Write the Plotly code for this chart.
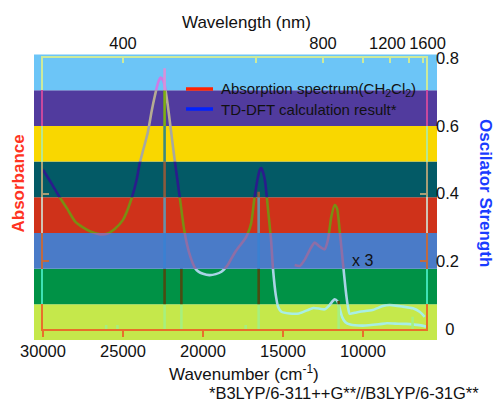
import plotly.graph_objects as go

# ---------------- data ----------------
wn_abs = [30000, 29500, 29000, 28500, 28000, 27500, 27000, 26500, 26000, 25500, 25000,
          24500, 24150, 23950, 23700, 23450, 23200, 23000, 22800, 22650, 22500, 22400,
          22200, 22000, 21800, 21600, 21400, 21200, 21000, 20800, 20500, 20300, 20000,
          19600, 19200, 18850, 18450, 18200, 17900, 17500, 17300, 17000, 16800, 16600,
          16450, 16350, 16200, 16100, 15950, 15750, 15620, 15450, 15300, 15100, 14600,
          14000, 13500, 13100, 12700, 12400, 12100, 11900, 11770, 11600, 11450, 11300,
          11100, 10800, 10000, 9000, 8500, 8000, 7300, 6800, 6300, 6060]
absorbance = [0.470, 0.432, 0.392, 0.356, 0.318, 0.300, 0.287, 0.280, 0.281, 0.296, 0.322,
              0.380, 0.440, 0.490, 0.535, 0.580, 0.645, 0.690, 0.728, 0.742, 0.735, 0.720,
              0.660, 0.585, 0.510, 0.440, 0.370, 0.300, 0.250, 0.215, 0.180, 0.170, 0.163,
              0.159, 0.162, 0.169, 0.189, 0.210, 0.233, 0.258, 0.272, 0.310, 0.380, 0.440,
              0.470, 0.475, 0.455, 0.430, 0.360, 0.265, 0.175, 0.100, 0.065, 0.051, 0.046,
              0.046, 0.055, 0.062, 0.060, 0.058, 0.070, 0.082, 0.088, 0.082, 0.060, 0.035,
              0.020, 0.013, 0.010, 0.014, 0.017, 0.016, 0.015, 0.013, 0.010, 0.007]

wn_x3 = [14270, 13950, 13650, 13330, 13020, 12700, 12400, 12190, 11980, 11770, 11620,
         11460, 11250, 11080, 10940, 10830, 10500, 10200, 9400, 8750, 8330, 7500, 6880,
         6460, 6140]
absorbance_x3 = [0.189, 0.186, 0.204, 0.233, 0.255, 0.243, 0.235, 0.263, 0.331, 0.366, 0.356,
                 0.292, 0.194, 0.115, 0.066, 0.045, 0.048, 0.051, 0.056, 0.068, 0.071, 0.066,
                 0.061, 0.051, 0.036]

wn_calc = [26050, 25350, 22400, 21350, 17330, 16520, 11520, 6900]
osc_strength = [0.012, 0.012, 0.770, 0.180, 0.012, 0.405, 0.083, 0.036]

wn_ticks = [30000, 25000, 20000, 15000, 10000]
wl_ticks = [400, 600, 800, 1000, 1200, 1400, 1600]
wl_labels = ["400", "", "800", "", "1200\u00a0", "", "\u00a0\u00a01600"]
f_ticks = [0, 0.2, 0.4, 0.6, 0.8]
f_labels = ["\u00a0\u00a00", "0.2", "0.4", "0.6", "0.8"]

# bands listed bottom -> top
band_colors = ["#C5E84B", "#009246", "#4A7BC8", "#CF321A", "#035A66", "#F9D700", "#513B9E", "#6CC5F7"]
curve_colors = ["#A8EEE4", "#A9D3E6", "#8E6EA6", "#7A8E12", "#2A1C8C", "#A8A8A0", "#B5AC92", "#CE7BE6"]
stick_colors = ["#A6F07E", "#4A4C12", "#3A80D2", "#6890A8", "#8C5A3C", "#3C8A7E", "#7DB010", "#D890DA"]
frame_colors = ["#E8702A", "#3EE2B4", "#BF6A42", "#D0C4B4", "#A89E76", "#B8E890", "#C8489E", "#CDEA9A"]

# ---------------- layout geometry (pixels) ----------------
W, H = 494, 403
FL, FR, FT, FB = 43, 426, 58, 329          # inner frame = plot area
BL, BR, BT, BB = 34, 437, 54.5, 340        # coloured band area
YMAX = 0.8
XR = [30000, 6060]

def px_x(px):
    return (px - FL) / (FR - FL)

def px_y(py):
    return (FB - py) / (FB - FT)

nb = len(band_colors)
step = (BB - BT) / nb

fig = go.Figure()
shapes = []
layout_axes = {}

stick_x, stick_y = [], []
for w, f in zip(wn_calc, osc_strength):
    stick_x += [w, w, None]
    stick_y += [0, f, None]

for i in range(nb):
    p0 = px_y(BB - i * step)
    p1 = px_y(BB - (i + 1) * step)
    shapes.append(dict(type="rect", xref="paper", yref="paper", x0=px_x(BL), x1=px_x(BR),
                       y0=p0, y1=p1, fillcolor=band_colors[i], line=dict(width=0), layer="below"))
    d0, d1 = max(0.0, p0), min(1.0, p1)
    name = "yaxis" if i == 0 else f"yaxis{i + 1}"
    ref = "y" if i == 0 else f"y{i + 1}"
    layout_axes[name] = dict(domain=[d0, d1], range=[d0 * YMAX, d1 * YMAX], anchor="x",
                             showgrid=False, zeroline=False, showline=True, linecolor=frame_colors[i],
                             linewidth=2, mirror="ticks", ticks="inside", ticklen=6, tickwidth=2,
                             tickcolor=frame_colors[i], tickvals=[0, 0.2, 0.4, 0.6],
                             showticklabels=False, fixedrange=True, automargin=False)
    fig.add_trace(go.Scatter(x=wn_abs, y=absorbance, mode="lines", yaxis=ref, xaxis="x",
                             line=dict(color=curve_colors[i], width=2.6, shape="spline", smoothing=0.6),
                             showlegend=False, hoverinfo="skip"))
    fig.add_trace(go.Scatter(x=wn_x3, y=absorbance_x3, mode="lines", yaxis=ref, xaxis="x",
                             line=dict(color=curve_colors[i], width=2.6, shape="spline", smoothing=0.6),
                             showlegend=False, hoverinfo="skip"))
    fig.add_trace(go.Scatter(x=stick_x, y=stick_y, mode="lines", yaxis=ref, xaxis="x",
                             line=dict(color=stick_colors[i], width=2.6),
                             showlegend=False, hoverinfo="skip"))

# empty traces to make helper axes render
fig.add_trace(go.Scatter(x=[None], y=[None], xaxis="x2", yaxis=f"y{nb}", showlegend=False, hoverinfo="skip"))
fig.add_trace(go.Scatter(x=[None], y=[None], xaxis="x", yaxis=f"y{nb + 1}", showlegend=False, hoverinfo="skip"))

FONT = "Liberation Sans, Arial, Helvetica, sans-serif"
tickfont = dict(family=FONT, size=16.5, color="#111111")

layout_axes[f"yaxis{nb + 1}"] = dict(domain=[0, 1], range=[0, YMAX], anchor="x", side="right",
                                     showgrid=False, zeroline=False, showline=False, ticks="",
                                     tickvals=f_ticks, ticktext=f_labels, tickfont=tickfont,
                                     ticklabelstandoff=9, fixedrange=True, automargin=False,
                                     tickangle=0)

# legend swatches
shapes.append(dict(type="line", xref="paper", yref="paper", x0=px_x(186), x1=px_x(213),
                   y0=px_y(89), y1=px_y(89), line=dict(color="#FF2200", width=3.5)))
shapes.append(dict(type="line", xref="paper", yref="paper", x0=px_x(186), x1=px_x(213),
                   y0=px_y(109), y1=px_y(109), line=dict(color="#0022FF", width=3.5)))

annotations = [
    dict(text="<b>Absorbance</b>", x=px_x(17.5), y=px_y(184), textangle=-90,
         font=dict(family=FONT, size=17, color="#FF3322")),
    dict(text="<b>Oscilator Strength</b>", x=px_x(486), y=px_y(193), textangle=90,
         font=dict(family=FONT, size=17, color="#1A3CFF")),
    dict(text="Wavelength (nm)", x=px_x(246), y=px_y(22), font=dict(family=FONT, size=17, color="#111111")),
    dict(text="Wavenumber (cm<sup>-1</sup>)", x=px_x(244), y=px_y(372.5),
         font=dict(family=FONT, size=17, color="#111111")),
    dict(text="*B3LYP/6-311++G**//B3LYP/6-31G**", x=px_x(481), y=px_y(393), xanchor="right",
         font=dict(family=FONT, size=16.5, color="#111111")),
    dict(text="Absorption spectrum(CH<sub>2</sub>Cl<sub>2</sub>)", x=px_x(219), y=px_y(89), xanchor="left",
         font=dict(family=FONT, size=15, color="#111111")),
    dict(text="TD-DFT calculation result*", x=px_x(219), y=px_y(109), xanchor="left",
         font=dict(family=FONT, size=15, color="#111111")),
    dict(text="x 3", x=px_x(362.5), y=px_y(260), font=dict(family=FONT, size=16, color="#111111")),
]
for a in annotations:
    a.update(xref="paper", yref="paper", showarrow=False)
    a.setdefault("xanchor", "center")
    a.setdefault("yanchor", "middle")

fig.update_layout(
    width=W, height=H,
    margin=dict(l=FL, r=W - FR, t=FT, b=H - FB, pad=0, autoexpand=False),
    paper_bgcolor="white", plot_bgcolor="rgba(0,0,0,0)",
    showlegend=False, hovermode=False,
    shapes=shapes, annotations=annotations,
    xaxis=dict(domain=[0, 1], range=XR, anchor="y", showgrid=False, zeroline=False,
               showline=True, linecolor=frame_colors[0], linewidth=2,
               ticks="outside", ticklen=6, tickwidth=2, tickcolor=frame_colors[0],
               tickvals=wn_ticks, ticktext=[str(t) for t in wn_ticks], tickfont=tickfont,
               fixedrange=True, automargin=False, tickangle=0),
    xaxis2=dict(overlaying="x", anchor=f"y{nb}", side="top", range=XR, showgrid=False,
                zeroline=False, showline=True, linecolor=frame_colors[-1], linewidth=2,
                ticks="inside", ticklen=5, tickwidth=2, tickcolor=frame_colors[-1],
                tickvals=[1e7 / wl for wl in wl_ticks], ticktext=wl_labels, tickfont=tickfont,
                fixedrange=True, automargin=False, tickangle=0),
    **layout_axes,
)

fig.write_html("out.html", config={"displayModeBar": False},
               post_script="document.body.style.margin='0';document.body.style.overflow='hidden';")
